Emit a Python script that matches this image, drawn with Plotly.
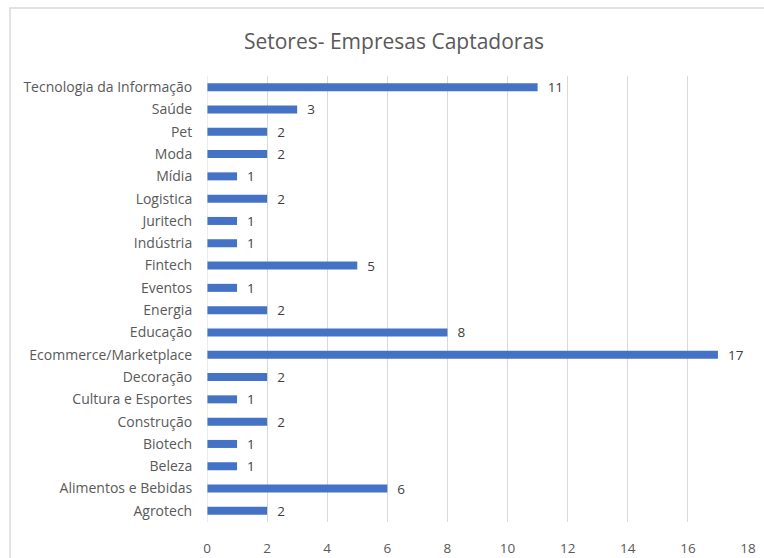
import plotly.graph_objects as go

categories = ["Agrotech", "Alimentos e Bebidas", "Beleza", "Biotech", "Construção",
              "Cultura e Esportes", "Decoração", "Ecommerce/Marketplace", "Educação",
              "Energia", "Eventos", "Fintech", "Indústria", "Juritech", "Logistica",
              "Mídia", "Moda", "Pet", "Saúde", "Tecnologia da Informação"]
values = [2, 6, 1, 1, 2, 1, 2, 17, 8, 2, 1, 5, 1, 1, 2, 1, 2, 2, 3, 11]
x_ticks = [0, 2, 4, 6, 8, 10, 12, 14, 16, 18]

FONT = "Open Sans"
GRAY = "#595959"

fig = go.Figure(go.Bar(
    y=categories, x=values, orientation="h",
    marker=dict(color="#4472C4", line=dict(width=0)),
    width=0.36,
    text=["  " + str(v) for v in values],
    textposition="outside", cliponaxis=False, constraintext="none",
    textfont=dict(family=FONT, size=13.5, color="#404040"),
))

L, R, T, B = 207, 16, 76, 36
W, H = 764, 558
pw, ph = W - L - R, H - T - B

fig.update_layout(
    width=W, height=H,
    margin=dict(l=L, r=R, t=T, b=B, pad=0),
    paper_bgcolor="white", plot_bgcolor="white",
    showlegend=False,
    title=dict(text="Setores- Empresas Captadoras", x=394 / W, xanchor="center",
               y=1 - 42 / H, yanchor="middle", xref="container", yref="container",
               font=dict(family=FONT, size=21, color=GRAY)),
    xaxis=dict(range=[0, 18], tickvals=x_ticks, showgrid=True, gridcolor="#d9d9d9",
               gridwidth=1, zeroline=False, showline=False, automargin=False,
               ticks="outside", ticklen=14, tickcolor="rgba(0,0,0,0)",
               tickfont=dict(family=FONT, size=13.5, color=GRAY)),
    yaxis=dict(categoryorder="array", categoryarray=categories, showgrid=False,
               zeroline=False, showline=False, ticks="outside", ticklen=11,
               tickcolor="rgba(0,0,0,0)", automargin=False,
               tickfont=dict(family=FONT, size=14, color=GRAY)),
)

fig.add_shape(type="rect", xref="paper", yref="paper",
              x0=(10 - L) / pw, x1=(780 - L) / pw,
              y0=-(600 - (H - B)) / ph, y1=1 + (T - 8) / ph,
              line=dict(color="#d9d9d9", width=1.5), fillcolor="rgba(0,0,0,0)",
              layer="below")
fig.add_shape(type="line", xref="x", yref="paper", x0=0, x1=0, y0=0, y1=1,
              line=dict(color="#d9d9d9", width=1))

fig.write_html("out.html")
